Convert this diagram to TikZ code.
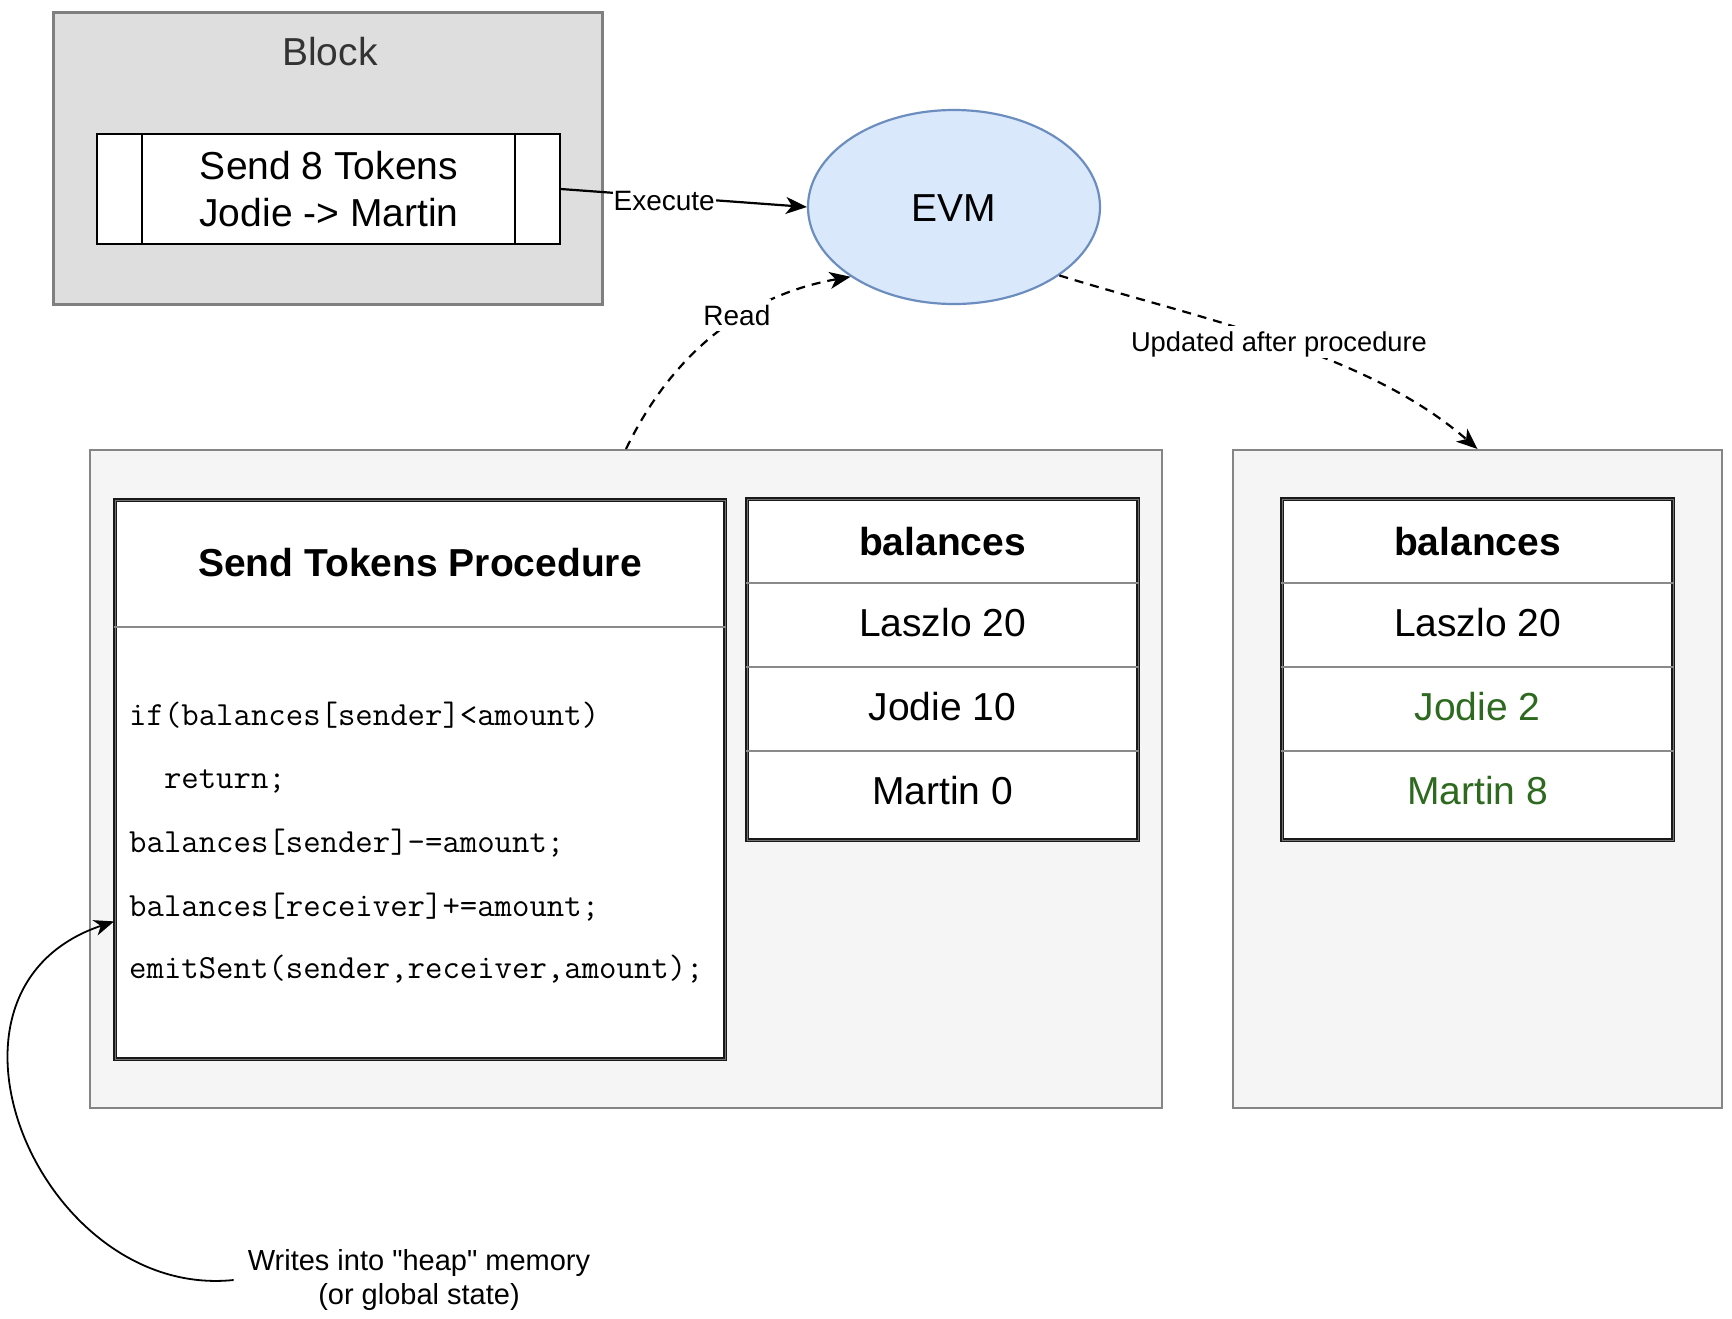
\documentclass[tikz,border=0pt]{standalone}
\usepackage{fontspec}
\setmainfont{Liberation Sans}
\newfontfamily\plainsans{Liberation Sans}[Ligatures=TeXOff]
\usetikzlibrary{arrows.meta,calc,shapes.geometric}
\definecolor{blockfill}{HTML}{DEDEDE}
\definecolor{blockdraw}{HTML}{7F7F7F}
\definecolor{blocktext}{HTML}{333333}
\definecolor{contfill}{HTML}{F5F5F5}
\definecolor{contdraw}{HTML}{858585}
\definecolor{evmfill}{HTML}{DAE8FC}
\definecolor{evmdraw}{HTML}{6C8EBF}
\definecolor{divgray}{HTML}{8A8A8A}
\definecolor{okgreen}{HTML}{2D6A1F}
\begin{document}
\begin{tikzpicture}[x=1pt,y=-1pt,
  txt/.style={inner sep=0pt, text height=28pt, text depth=0pt, font=\fontsize{39}{47}\selectfont},
  boldtxt/.style={txt, font=\fontsize{39}{47}\selectfont\bfseries},
  lab/.style={fill=white, inner xsep=1pt, inner ysep=6pt, text height=20pt, text depth=0pt, font=\fontsize{28}{34}\selectfont},
  codeline/.style={anchor=west, inner sep=0pt, text height=20pt, text depth=0pt, font=\fontsize{33.8}{40}\selectfont\ttfamily},
  blockbox/.style={draw=blockdraw, fill=blockfill, line width=2.2pt, inner sep=0pt},
  cont/.style={draw=contdraw, fill=contfill, line width=2pt, inner sep=0pt},
  tbl/.style={draw=black!90, fill=white, line width=1.8pt, double=black!55, double distance=1pt, inner sep=0pt},
  procline/.style={draw=black, line width=2.2pt},
  divider/.style={draw=divgray, line width=2pt},
  conn/.style={draw=black, line width=2.2pt, -{Stealth[length=21pt,width=17pt,inset=6pt]}},
  dconn/.style={conn, dash pattern=on 9pt off 7pt},
]
\useasboundingbox (0,0) rectangle (1732,1318);
\fill[white] (0,0) rectangle (1732,1318);

% Block
\node[blockbox, minimum width=549pt, minimum height=292pt] (block) at (328,158.5) {};
\node[txt, text=blocktext] (blocklbl) at (330,51) {Block};
\node[procline, fill=white, inner sep=0pt, minimum width=463pt, minimum height=110pt] (txbox) at (328.2,189) {};
\draw[procline] ($(txbox.north west)+(46,0)$) -- ($(txbox.south west)+(46,0)$);
\draw[procline] ($(txbox.north east)+(-46,0)$) -- ($(txbox.south east)+(-46,0)$);
\node[txt] (t1) at (329,165) {Send 8 Tokens};
\node[txt] (t2) at (329,212) {Jodie -> Martin};

% EVM
\node[ellipse, txt, draw=evmdraw, fill=evmfill, line width=2.2pt, minimum width=292pt, minimum height=194pt] (evm) at (954,207) {EVM};

% Containers
\node[cont, minimum width=1072pt, minimum height=658pt] (leftc) at (626,779) {};
\node[cont, minimum width=489pt, minimum height=658pt] (rightc) at (1477.5,779) {};

% Procedure
\node[tbl, minimum width=610pt, minimum height=559pt] (proc) at (420,779.5) {};
\draw[divider] ($(proc.north west)+(0,128)$) -- ($(proc.north east)+(0,128)$);
\node[boldtxt] (ptitle) at (420,562.5) {Send Tokens Procedure};
\node[codeline] (c1) at (129,715) {if(balances[sender]<amount)};
\node[codeline] (c2) at (129,778) {\phantom{rr}return;};
\node[codeline] (c3) at (129,842) {balances[sender]-=amount;};
\node[codeline] (c4) at (129,906) {balances[receiver]+=amount;};
\node[codeline] (c5) at (129,968) {emitSent(sender,receiver,amount);};

% balances before
\node[tbl, minimum width=391pt, minimum height=341pt] (bal1) at (942.5,669.5) {};
\foreach \d in {85,169,253}
  \draw[divider] ($(bal1.north west)+(0,\d)$) -- ($(bal1.north east)+(0,\d)$);
\node[boldtxt] (b1h) at (942.5,541) {balances};
\node[txt] (b1a) at (942.5,622.5) {Laszlo 20};
\node[txt] (b1b) at (942.5,706.5) {Jodie 10};
\node[txt] (b1c) at (942.5,790.5) {Martin 0};

% balances after
\node[tbl, minimum width=391pt, minimum height=341pt] (bal2) at (1477.5,669.5) {};
\foreach \d in {85,169,253}
  \draw[divider] ($(bal2.north west)+(0,\d)$) -- ($(bal2.north east)+(0,\d)$);
\node[boldtxt] (b2h) at (1477.5,541) {balances};
\node[txt] (b2a) at (1477.5,622.5) {Laszlo 20};
\node[txt, text=okgreen] (b2b) at (1477.5,706.5) {Jodie 2};
\node[txt, text=okgreen] (b2c) at (1477.5,790.5) {Martin 8};

% Connectors
\draw[conn] (txbox.east) -- node[lab, pos=0.42, yshift=-4pt] (execlbl) {Execute} (evm.west);
\draw[dconn] (leftc.north) .. controls (670,358) and (741,296) .. node[lab, pos=0.6, yshift=4pt] (readlbl) {Read} (evm.214);
\draw[dconn] (evm.-33) .. controls (1200,319) and (1365,351) .. node[lab, pos=0.5, font=\fontsize{27.3}{33}\selectfont] (updlbl) {Updated after procedure} (rightc.north);

% Writes note
\node[align=center, font=\fontsize{29}{34}\selectfont\plainsans, inner xsep=14pt, inner ysep=4pt] (writes) at (419,1280) {Writes into "heap" memory\\(or global state)};
\draw[draw=black, line width=1.8pt, -{Stealth[length=20pt,width=16pt,inset=6pt]}]
  (writes.west) .. controls (40,1300) and (-90,990) .. ($(proc.north west)!0.753!(proc.south west)$);
\end{tikzpicture}
\end{document}
